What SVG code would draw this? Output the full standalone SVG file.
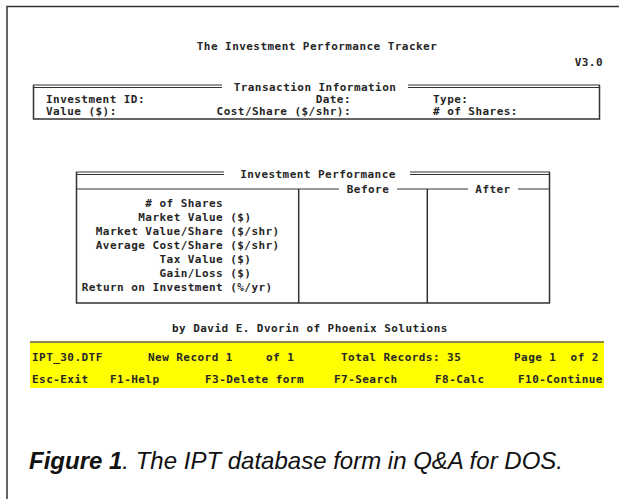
<svg xmlns="http://www.w3.org/2000/svg" width="619" height="499" viewBox="0 0 619 499">
<style>
.t{font-family:"DejaVu Sans Mono","Liberation Mono",monospace;font-weight:bold;font-size:11px;letter-spacing:0.45px;fill:#262626;white-space:pre}
.ln{stroke:#333;stroke-width:1.5;fill:none}
.ln2{stroke:#333;stroke-width:1;fill:none}
.cap{font-family:"Liberation Sans",Arial,sans-serif;font-style:italic;font-size:24px;fill:#111}
</style>
<rect width="619" height="499" fill="#fff"/>
<g id="frame">
<path class="ln" d="M7,499 V6.5 H619"/>
</g>
<g id="header">
<text class="t" x="317" y="50" text-anchor="middle">The Investment Performance Tracker</text>
<text class="t" x="603" y="66" text-anchor="end">V3.0</text>
</g>
<g id="transaction">
<path class="ln2" d="M33,85 H222 M33,87.5 H222 M408,85 H600 M408,87.5 H600"/>
<path class="ln" d="M33.5,85 V119 H599.5 V85"/>
<text class="t" x="315" y="91" text-anchor="middle">Transaction Information</text>
<text class="t" x="46" y="102.5">Investment ID:</text>
<text class="t" x="46" y="115">Value ($):</text>
<text class="t" x="351" y="102.5" text-anchor="end">Date:</text>
<text class="t" x="351" y="115" text-anchor="end">Cost/Share ($/shr):</text>
<text class="t" x="433" y="102.5">Type:</text>
<text class="t" x="433" y="115"># of Shares:</text>
</g>
<g id="performance">
<path class="ln2" d="M76,172 H224 M76,174.5 H224 M410,172 H550 M410,174.5 H550"/>
<path class="ln" d="M76.5,172 V303 H549.5 V172"/>
<path class="ln2" d="M76,189 H339 M397,189 H468 M518,189 H550"/>
<path class="ln" d="M298.7,189 V303 M427.3,189 V303"/>
<text class="t" x="318" y="177.5" text-anchor="middle">Investment Performance</text>
<text class="t" x="368" y="192.5" text-anchor="middle">Before</text>
<text class="t" x="493" y="192.5" text-anchor="middle">After</text>
<text class="t" x="145.3" y="207"># of Shares</text>
<text class="t" x="138.3" y="221">Market Value ($)</text>
<text class="t" x="95.8" y="235">Market Value/Share ($/shr)</text>
<text class="t" x="95.8" y="249">Average Cost/Share ($/shr)</text>
<text class="t" x="159.5" y="263">Tax Value ($)</text>
<text class="t" x="159.5" y="277">Gain/Loss ($)</text>
<text class="t" x="81.7" y="291">Return on Investment (%/yr)</text>
</g>
<g id="credit">
<text class="t" x="172" y="332">by David E. Dvorin of Phoenix Solutions</text>
</g>
<g id="statusbar">
<rect x="30" y="342" width="574" height="46" fill="#ffff00"/>
<rect x="30" y="341" width="574" height="2" fill="#8a8a4a"/>
<text class="t" x="32" y="361">IPT_30.DTF</text>
<text class="t" x="148" y="361">New Record 1</text>
<text class="t" x="266" y="361">of 1</text>
<text class="t" x="341" y="361">Total Records: 35</text>
<text class="t" x="514" y="361">Page 1  of 2</text>
<text class="t" x="32" y="383">Esc-Exit</text>
<text class="t" x="110" y="383">F1-Help</text>
<text class="t" x="205" y="383">F3-Delete form</text>
<text class="t" x="334" y="383">F7-Search</text>
<text class="t" x="435" y="383">F8-Calc</text>
<text class="t" x="518" y="383">F10-Continue</text>
</g>
<g id="caption">
<text class="cap" x="29" y="469"><tspan font-weight="bold">Figure 1</tspan>. The IPT database form in Q&amp;A for DOS.</text>
</g>
</svg>
